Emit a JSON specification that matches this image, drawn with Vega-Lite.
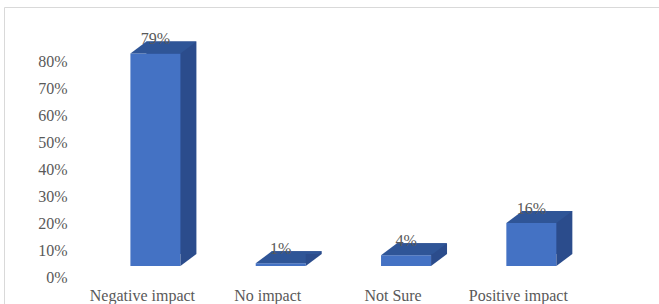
{
  "$schema": "https://vega.github.io/schema/vega-lite/v6.json",
  "width": 660,
  "height": 300,
  "autosize": {"type": "none"},
  "padding": {"left": 4, "top": 7, "right": 0, "bottom": 0},
  "background": "white",
  "config": {
    "view": {"stroke": "#D9D9D9", "strokeWidth": 1},
    "axis": {
      "labelFont": "Liberation Serif",
      "labelFontSize": 16,
      "labelColor": "#595959",
      "labelOverlap": false,
      "domain": false,
      "ticks": false,
      "tickSize": 0,
      "grid": false,
      "title": null
    }
  },
  "data": {
    "values": [
      {"category": "Negative impact", "value": 0.79},
      {"category": "No impact", "value": 0.01},
      {"category": "Not Sure", "value": 0.04},
      {"category": "Positive impact", "value": 0.16}
    ]
  },
  "encoding": {
    "x": {
      "field": "category",
      "type": "nominal",
      "sort": null,
      "scale": {"range": [75.75, 577], "paddingInner": 0, "paddingOuter": 0},
      "axis": {"labelAngle": 0, "labelPadding": 0, "offset": -20, "labelBaseline": "top"}
    },
    "y": {
      "field": "value",
      "type": "quantitative",
      "scale": {"domain": [0, 1.0037], "range": [270, 0], "nice": false, "zero": true},
      "axis": {"values": [0, 0.1, 0.2, 0.3, 0.4, 0.5, 0.6, 0.7, 0.8], "format": ".0%", "labelPadding": 0, "offset": -63, "labelOverlap": false, "labelFlush": false}
    }
  },
  "layer": [
    {
      "mark": {"type": "bar", "color": "#2B4C8C", "size": 50, "xOffset": 29, "yOffset": -23, "y2Offset": -23}
    },
    {
      "mark": {"type": "bar", "color": "#4472C4", "size": 50, "xOffset": 13, "yOffset": -11, "y2Offset": -11}
    },
    {
      "mark": {"type": "point", "shape": "M -1 0 L 0.5152 0 L 1 -0.3636 L -0.5152 -0.3636 Z", "filled": true, "opacity": 1, "size": 4356, "color": "#2F5597", "strokeWidth": 0, "xOffset": 21, "yOffset": -11}
    },
    {
      "mark": {"type": "point", "shape": "M 0 0 L 0 -0.75 L 1 -0.75 Z", "filled": true, "opacity": 1, "size": 1024, "color": "#2B4C8C", "strokeWidth": 0, "xOffset": 38, "yOffset": -11},
      "encoding": {"y": {"datum": 0, "type": "quantitative"}}
    },
    {
      "mark": {"type": "text", "font": "Liberation Serif", "fontSize": 16, "color": "#595959", "xOffset": 13, "yOffset": -11, "dy": -14, "baseline": "middle"},
      "encoding": {
        "text": {"field": "value", "type": "quantitative", "format": ".0%"}
      }
    }
  ]
}
